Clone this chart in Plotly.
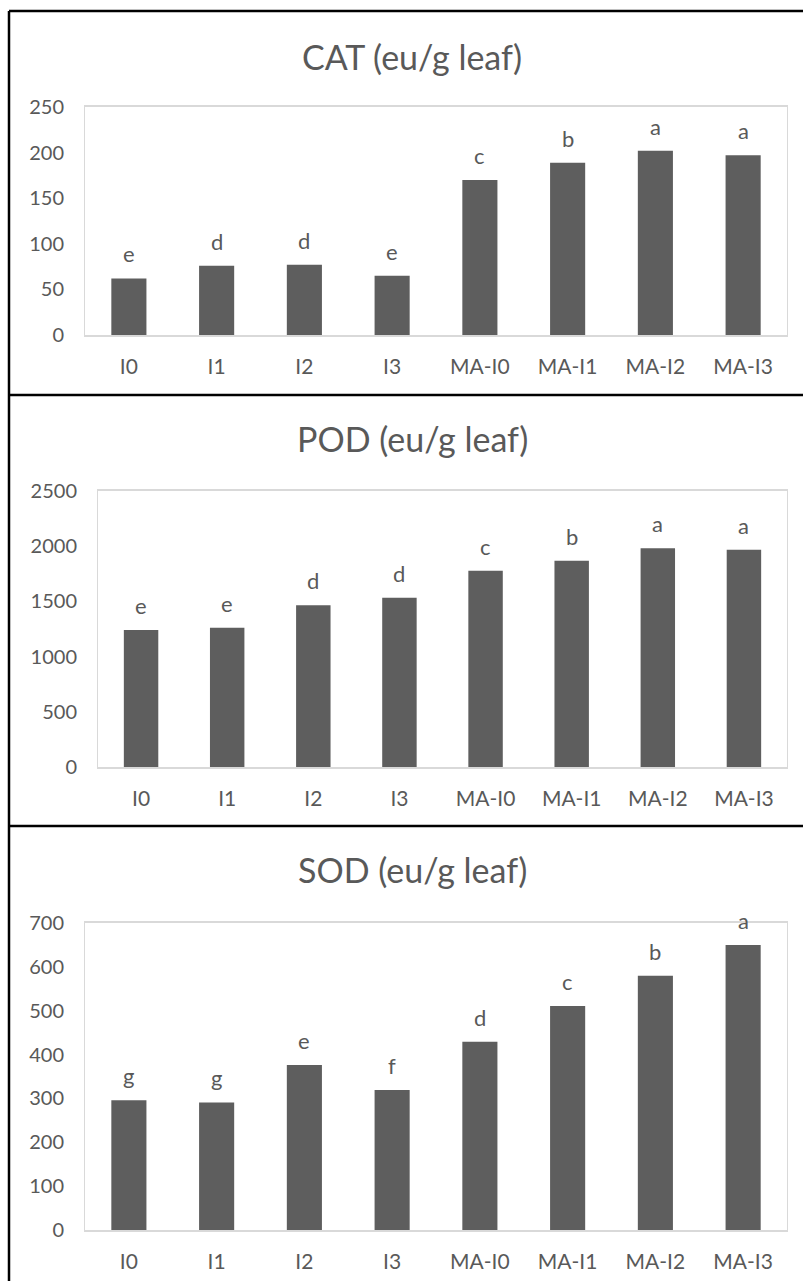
import plotly.graph_objects as go

categories = ["I0", "I1", "I2", "I3", "MA-I0", "MA-I1", "MA-I2", "MA-I3"]

cat_values = [62, 76, 77, 65, 170, 189, 202, 197]
cat_letters = ["e", "d", "d", "e", "c", "b", "a", "a"]

pod_values = [1241, 1262, 1465, 1534, 1778, 1869, 1981, 1968]
pod_letters = ["e", "e", "d", "d", "c", "b", "a", "a"]

sod_values = [296, 291, 376, 319, 429, 511, 580, 650]
sod_letters = ["g", "g", "e", "f", "d", "c", "b", "a"]

titles = ["CAT (eu/g leaf)", "POD (eu/g leaf)", "SOD (eu/g leaf)"]
y_ranges = [(0, 250), (0, 2500), (0, 700)]
y_dticks = [50, 500, 100]

W, H = 803, 1281
FONT = "Lato"
GRAY = "#595959"
BAR = "#5e5e5e"
FRAME = "#d9d9d9"

# plot-area boxes in pixels (left, top, right, bottom)
boxes = [(85, 107, 787, 335), (98, 491, 787, 767), (85, 923, 787, 1230)]
title_y = [56, 439, 869]

def px_x(x):
    return x / W

def px_y(y):
    return 1 - y / H

fig = go.Figure()
series = [(cat_values, cat_letters), (pod_values, pod_letters), (sod_values, sod_letters)]

for i, ((vals, letters), box) in enumerate(zip(series, boxes)):
    n = i + 1
    xa = "x" if n == 1 else f"x{n}"
    ya = "y" if n == 1 else f"y{n}"
    fig.add_trace(go.Bar(x=categories, y=vals, width=0.4, marker=dict(color=BAR, line=dict(width=0)),
                         xaxis=xa, yaxis=ya, showlegend=False, hoverinfo="skip"))
    for c, v, l in zip(categories, vals, letters):
        fig.add_annotation(x=c, y=v, xref=xa, yref=ya, text=l, showarrow=False,
                           yanchor="bottom", yshift=9,
                           font=dict(family=FONT, size=22, color=GRAY))
    l, t, r, b = box
    xkey = "xaxis" if n == 1 else f"xaxis{n}"
    ykey = "yaxis" if n == 1 else f"yaxis{n}"
    fig.update_layout(**{
        xkey: dict(domain=[px_x(l), px_x(r)], anchor=ya, showgrid=False, zeroline=False,
                   automargin=False,
                   showline=True, linecolor=FRAME, linewidth=1.5, mirror=True,
                   ticks="outside", ticklen=12, tickcolor="rgba(0,0,0,0)",
                   tickfont=dict(family=FONT, size=21, color=GRAY), fixedrange=True),
        ykey: dict(domain=[px_y(b), px_y(t)], anchor=xa, range=list(y_ranges[i]),
                   automargin=False,
                   dtick=y_dticks[i], tick0=0, showgrid=False, zeroline=False,
                   showline=True, linecolor=FRAME, linewidth=1, mirror=True,
                   ticks="outside", ticklen=16, tickcolor="rgba(0,0,0,0)",
                   tickfont=dict(family=FONT, size=20, color=GRAY), fixedrange=True),
    })
    fig.add_annotation(x=px_x(412), y=px_y(title_y[i]), xref="paper", yref="paper",
                       text=titles[i], showarrow=False, xanchor="center", yanchor="middle",
                       font=dict(family=FONT, size=34, color=GRAY))

# black panel frames
lines = [
    (9, 11, 9, H),       # left edge
    (9, 11, W, 11),      # top edge
    (9, 395, W, 395),    # separator 1
    (9, 826, W, 826),    # separator 2
]
for x0, y0, x1, y1 in lines:
    fig.add_shape(type="line", xref="paper", yref="paper",
                  x0=px_x(x0), y0=px_y(y0), x1=px_x(x1), y1=px_y(y1),
                  line=dict(color="black", width=2.5))

fig.update_layout(width=W, height=H, margin=dict(l=0, r=0, t=0, b=0, autoexpand=False),
                  paper_bgcolor="white", plot_bgcolor="white", bargap=0.6)

fig.write_html("out.html", config={"displayModeBar": False},
               post_script="document.body.style.margin='0';document.body.style.overflow='hidden';")
